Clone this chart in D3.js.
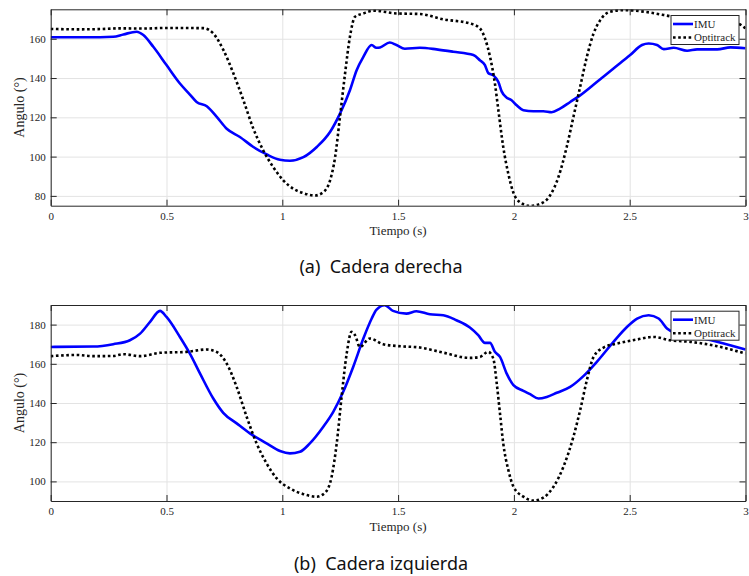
<!DOCTYPE html>
<html><head><meta charset="utf-8">
<script src="https://cdn.jsdelivr.net/npm/d3@7"></script>
<style>body{margin:0;background:#fff}svg{display:block}</style>
</head><body>
<svg id="c" width="749" height="576"></svg>
<script>
// ---- data ----
const xTicks = [0, 0.5, 1, 1.5, 2, 2.5, 3];
const xTickLabels = ["0", "0.5", "1", "1.5", "2", "2.5", "3"];
const yTicksA = [80, 100, 120, 140, 160];
const yTicksB = [100, 120, 140, 160, 180];
const seriesNames = ["IMU", "Optitrack"];
const captions = ["(a)  Cadera derecha", "(b)  Cadera izquierda"];
const xLabel = "Tiempo (s)";
const yLabel = "Angulo (°)";

// Cadera derecha - IMU [t, deg]
const imuA = [[0,160.8],[0.213,160.8],[0.27,161],[0.314,162.2],[0.371,163.6],[0.4,161.9],[0.443,155.9],[0.5,146.6],[0.558,137.2],[0.601,131.6],[0.63,127.8],[0.674,125.6],[0.717,120.2],[0.76,114.2],[0.817,110],[0.875,104.9],[0.933,101.1],[0.99,98.4],[1.033,97.9],[1.091,99.7],[1.149,104.9],[1.206,112.5],[1.249,121.9],[1.292,133.8],[1.321,144],[1.35,150.8],[1.386,156.8],[1.406,155.4],[1.422,155.6],[1.464,158.1],[1.493,156.8],[1.529,154.9],[1.594,155.4],[1.666,154.6],[1.738,153.4],[1.825,151.7],[1.853,149.1],[1.875,146.6],[1.889,142.6],[1.911,141.4],[1.933,138],[1.947,133.2],[1.969,130],[1.99,128.7],[2.012,126.1],[2.041,123.6],[2.084,123.1],[2.127,123.1],[2.163,122.6],[2.199,124.4],[2.243,127.8],[2.286,131.2],[2.358,138],[2.43,144.9],[2.502,151.7],[2.553,156.8],[2.582,157.6],[2.618,156.8],[2.647,154.7],[2.69,155.4],[2.748,153.9],[2.791,154.6],[2.878,154.6],[2.935,155.6],[3,155.2]];
// Cadera derecha - Optitrack
const optA = [[0,165],[0.127,164.8],[0.2,164.9],[0.3,165.3],[0.4,165.2],[0.5,165.5],[0.66,165.4],[0.702,162.7],[0.746,154.2],[0.789,142.3],[0.832,128.7],[0.875,114.2],[0.918,103.1],[0.961,94.6],[1.005,87.8],[1.048,83.6],[1.091,81.4],[1.141,80.2],[1.177,81.9],[1.206,87.8],[1.228,99.7],[1.249,120.2],[1.271,142.3],[1.292,161],[1.314,171.2],[1.35,172.9],[1.393,174.3],[1.493,172.9],[1.594,172.6],[1.695,169.9],[1.81,167.8],[1.853,165.3],[1.875,160.2],[1.897,150.8],[1.918,137.2],[1.933,123.6],[1.954,104.9],[1.976,91.2],[1.997,81.9],[2.026,76.8],[2.069,74.9],[2.113,75.9],[2.156,80.2],[2.192,89.5],[2.228,104.9],[2.257,120.2],[2.286,135.5],[2.315,150.8],[2.344,162.7],[2.373,169.5],[2.416,173.8],[2.474,174.6],[2.56,173.8],[2.647,172.1],[2.719,170.4],[2.85,169],[2.964,167.8],[3,165.3]];
// Cadera izquierda - IMU
const imuB = [[0,168.6],[0.184,168.8],[0.27,170],[0.342,172],[0.386,175.4],[0.429,181.4],[0.472,187],[0.5,183.9],[0.558,173.7],[0.601,165.2],[0.645,155],[0.702,142.3],[0.745,135],[0.803,129.6],[0.86,124.5],[0.932,119.4],[0.99,115.5],[1.033,114.3],[1.076,115.1],[1.119,119.4],[1.177,127.9],[1.22,135.5],[1.263,145.7],[1.306,158.4],[1.35,172.9],[1.386,183.1],[1.406,187.5],[1.442,189.9],[1.478,187],[1.536,185.6],[1.579,186.8],[1.637,185.3],[1.695,184.8],[1.752,182.2],[1.81,178.5],[1.846,174.6],[1.875,170.7],[1.897,170.7],[1.918,166.1],[1.94,163.5],[1.969,155],[1.998,149.1],[2.041,146.2],[2.07,144.5],[2.106,142.3],[2.142,143.1],[2.185,145.2],[2.243,148.2],[2.3,153.7],[2.358,161],[2.43,171.2],[2.488,178.8],[2.532,183.1],[2.582,184.8],[2.625,183.1],[2.661,178],[2.704,175.4],[2.82,172.9],[2.906,170.3],[3,167.3]];
// Cadera izquierda - Optitrack
const optB = [[0,163.9],[0.112,164.5],[0.184,163.9],[0.27,164],[0.314,164.9],[0.386,163.9],[0.472,165.6],[0.587,166.1],[0.673,167.3],[0.716,166.1],[0.76,160.1],[0.803,148.2],[0.846,133],[0.889,119.4],[0.932,109.2],[0.976,101.5],[1.033,96.4],[1.091,93.5],[1.148,92.2],[1.184,94.2],[1.213,102.4],[1.235,119.4],[1.256,143.1],[1.278,165.2],[1.299,176.3],[1.314,174.6],[1.335,168.6],[1.378,172.9],[1.435,170],[1.493,169.1],[1.594,168.3],[1.695,165.7],[1.81,163],[1.853,163.5],[1.889,166.1],[1.911,162.7],[1.926,149.9],[1.94,134.6],[1.954,119.4],[1.976,105.8],[1.998,97.3],[2.041,92.2],[2.084,90.2],[2.127,91.7],[2.171,97.3],[2.214,107.5],[2.257,122.8],[2.286,136.3],[2.315,151.6],[2.344,163.5],[2.387,168.3],[2.445,170.3],[2.532,172.4],[2.603,173.7],[2.676,172],[2.762,171.2],[2.877,169],[3,165.2]];

const panels = [
  {imu: imuA, opt: optA, yDomain: [75, 175], yTicks: yTicksA, top: 9.3, bottom: 205.7, caption: captions[0], capY: 273},
  {imu: imuB, opt: optB, yDomain: [90, 190], yTicks: yTicksB, top: 305, bottom: 501, caption: captions[1], capY: 570}
];

const svg = d3.select("#c");
const L = 50.7, R = 745.5;
const axisColor = "#262626";
const serif = "'Liberation Serif', 'Times New Roman', serif";

panels.forEach((p, pi) => {
  const x = d3.scaleLinear().domain([0, 3]).range([L, R]);
  const y = d3.scaleLinear().domain(p.yDomain).range([p.bottom, p.top]);
  const g = svg.append("g");
  const W = R - L, H = p.bottom - p.top;

  // grid
  g.append("g").attr("transform", `translate(0,${p.bottom})`)
    .call(d3.axisBottom(x).tickValues(xTicks).tickSize(-H).tickFormat(""))
    .call(s => { s.select(".domain").remove(); s.selectAll("line").attr("stroke", "#e3e3e3").attr("stroke-width", 1); });
  g.append("g").attr("transform", `translate(${L},0)`)
    .call(d3.axisLeft(y).tickValues(p.yTicks).tickSize(-W).tickFormat(""))
    .call(s => { s.select(".domain").remove(); s.selectAll("line").attr("stroke", "#e3e3e3").attr("stroke-width", 1); });

  const clipId = "clip" + pi;
  svg.append("clipPath").attr("id", clipId).append("rect")
    .attr("x", L).attr("y", p.top).attr("width", W).attr("height", H);

  const line = d3.line().x(d => x(d[0])).y(d => y(d[1])).curve(d3.curveMonotoneX);
  const lines = g.append("g").attr("clip-path", `url(#${clipId})`);
  lines.append("path").datum(p.imu).attr("d", line)
    .attr("fill", "none").attr("stroke", "#0000ff").attr("stroke-width", 2.6).attr("stroke-linejoin", "round");
  lines.append("path").datum(p.opt).attr("d", line)
    .attr("fill", "none").attr("stroke", "#000").attr("stroke-width", 2.6).attr("stroke-dasharray", "2.6,2.6");

  // axes with inward ticks on all sides
  const fmtX = (d, i) => xTickLabels[i];
  const styleAxis = s => {
    s.attr("font-family", null).attr("font-size", null);
    s.select(".domain").attr("stroke", axisColor);
    s.selectAll(".tick line").attr("stroke", axisColor);
    s.selectAll("text").attr("fill", axisColor).attr("font-family", serif).attr("font-size", "11px");
  };
  g.append("g").attr("transform", `translate(0,${p.bottom})`)
    .call(d3.axisBottom(x).tickValues(xTicks).tickFormat(fmtX).tickSizeInner(-6).tickSizeOuter(0).tickPadding(6.5))
    .call(styleAxis);
  g.append("g").attr("transform", `translate(0,${p.top})`)
    .call(d3.axisTop(x).tickValues(xTicks).tickFormat("").tickSizeInner(-6).tickSizeOuter(0))
    .call(styleAxis);
  g.append("g").attr("transform", `translate(${L},0)`)
    .call(d3.axisLeft(y).tickValues(p.yTicks).tickSizeInner(-6).tickSizeOuter(0).tickPadding(5))
    .call(styleAxis);
  g.append("g").attr("transform", `translate(${R},0)`)
    .call(d3.axisRight(y).tickValues(p.yTicks).tickFormat("").tickSizeInner(-6).tickSizeOuter(0))
    .call(styleAxis);

  // axis labels
  g.append("text").attr("x", (L + R) / 2).attr("y", p.bottom + 29.5).attr("text-anchor", "middle")
    .attr("font-family", serif).attr("font-size", "13px").attr("fill", axisColor).text(xLabel);
  g.append("text").attr("transform", `translate(24,${(p.top + p.bottom) / 2}) rotate(-90)`)
    .attr("text-anchor", "middle").attr("font-family", serif).attr("font-size", "14px").attr("fill", axisColor).text(yLabel);

  // legend
  const lx = 671, ly = p.top + 6.2, lw = 68, lh = 29;
  const lg = g.append("g");
  lg.append("rect").attr("x", lx).attr("y", ly).attr("width", lw).attr("height", lh)
    .attr("fill", "#fff").attr("stroke", axisColor).attr("stroke-width", 1);
  const rows = [{name: seriesNames[0], color: "#0000ff", dash: null}, {name: seriesNames[1], color: "#000", dash: "2.6,2.6"}];
  rows.forEach((r, i) => {
    const ry = ly + 8.5 + i * 13.5;
    lg.append("line").attr("x1", lx + 2).attr("x2", lx + 22).attr("y1", ry).attr("y2", ry)
      .attr("stroke", r.color).attr("stroke-width", 2.6).attr("stroke-dasharray", r.dash);
    lg.append("text").attr("x", lx + 23).attr("y", ry + 3.8)
      .attr("font-family", serif).attr("font-size", "11px").attr("fill", axisColor).text(r.name);
  });

  // caption
  svg.append("text").attr("x", 381).attr("y", p.capY).attr("text-anchor", "middle")
    .attr("font-family", "'Noto Sans', 'Open Sans', sans-serif").attr("font-size", "18px")
    .attr("fill", "#111").attr("xml:space", "preserve").style("white-space", "pre").text(p.caption);
});
</script>
</body></html>
